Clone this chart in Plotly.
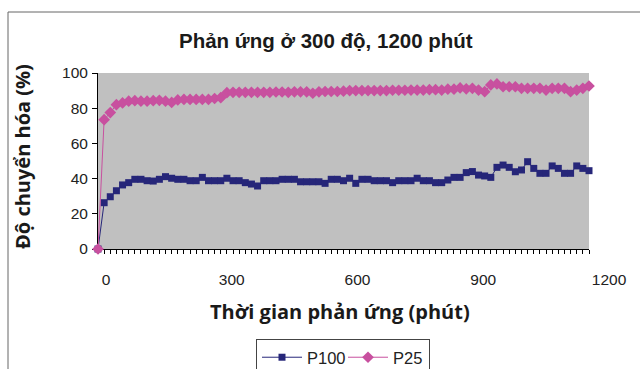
import plotly.graph_objects as go

W, H = 640, 369

# ---- data ----
times = list(range(0, 1201, 15))  # sampling times (minutes), one point every 15 min

p100 = [0, 26.3, 29.7, 33.1, 36.4, 37.7, 39.6, 39.6, 38.8, 38.6,
        39.6, 41.1, 40.2, 39.6, 39.6, 38.8, 38.8, 40.7, 38.8, 38.8,
        38.8, 40.2, 38.8, 38.8, 37.7, 36.9, 35.8, 38.8, 38.8, 38.8,
        39.6, 39.6, 39.6, 38.2, 38.2, 38.2, 38.2, 37.3, 39.6, 39.6,
        38.8, 40.2, 37.3, 39.6, 39.6, 38.8, 38.8, 38.8, 37.7, 38.8,
        38.8, 38.8, 40.2, 38.8, 38.8, 37.7, 37.7, 39.2, 40.7, 40.7,
        43.4, 44.0, 42.0, 41.5, 40.7, 46.4, 47.7, 46.4, 43.9, 44.9,
        49.6, 45.8, 43.0, 43.0, 47.2, 45.8, 43.0, 43.0, 47.2, 45.8,
        44.5]

p25 = [0, 73.5, 77.5, 82.0, 83.0, 84.0, 84.3, 84.0, 84.0, 84.3,
       84.5, 84.0, 83.3, 84.7, 85.0, 85.0, 85.0, 85.0, 85.0, 85.5,
       86.0, 88.8, 89.0, 89.0, 89.0, 89.0, 89.0, 89.0, 89.0, 89.2,
       89.2, 89.0, 89.3, 89.3, 89.3, 88.5, 89.3, 89.5, 89.5, 89.5,
       89.7, 90.0, 90.0, 90.0, 90.0, 90.0, 90.0, 90.0, 90.2, 90.2,
       90.2, 90.3, 90.3, 90.3, 90.5, 90.5, 90.3, 90.8, 90.8, 91.5,
       91.0, 91.3, 90.3, 89.4, 93.2, 93.8, 92.2, 92.2, 92.2, 91.3,
       91.3, 91.3, 91.3, 90.3, 91.3, 91.3, 91.3, 89.4, 90.3, 91.3,
       92.6]

x_tick_vals = [0, 300, 600, 900, 1200]
x_tick_text = ["0", "300", "600", "900", "1200"]
y_tick_vals = [0, 20, 40, 60, 80, 100]

# ---- layout helpers (pixels -> paper) ----
def px(x):
    return x / W

def py(y):
    return 1 - y / H

plot_l, plot_r, plot_t, plot_b = 98, 589, 73, 249
lab0, lab1 = 106, 609          # pixel positions of labels 0 and 1200
lab_l, lab_r = 90, 630         # domain of the label axis
scale = (lab1 - lab0) / 1200.0
r0 = -(lab0 - lab_l) / scale
r1 = 1200 + (lab_r - lab1) / scale

navy = "#262679"
pink = "#C8509F"
tick_font = dict(family="Liberation Sans, Arial", size=15.5, color="#222222")

fig = go.Figure()
fig.add_trace(go.Scatter(
    x=times, y=p100, name="P100", mode="lines+markers",
    line=dict(color=navy, width=1),
    marker=dict(symbol="square", size=7, color=navy),
    cliponaxis=False,
))
fig.add_trace(go.Scatter(
    x=times, y=p25, name="P25", mode="lines+markers",
    line=dict(color=pink, width=1),
    marker=dict(symbol="diamond", size=9, color=pink),
    cliponaxis=False,
))
# empty trace so that the label axis (x2) gets drawn
fig.add_trace(go.Scatter(x=[], y=[], xaxis="x2", yaxis="y2",
                         showlegend=False, hoverinfo="skip"))

fig.update_layout(
    width=W, height=H,
    margin=dict(l=0, r=0, t=0, b=0, autoexpand=False),
    paper_bgcolor="white",
    plot_bgcolor="rgba(0,0,0,0)",
    showlegend=True,
    xaxis=dict(
        domain=[px(plot_l), px(plot_r)], range=[0, 1200], anchor="y",
        showline=True, linecolor="black", linewidth=1,
        ticks="outside", ticklen=4, tickcolor="black", tickwidth=1,
        tick0=0, dtick=15, showticklabels=False,
        showgrid=False, zeroline=False, layer="below traces",
        automargin=False,
    ),
    yaxis=dict(
        domain=[py(plot_b), py(plot_t)], range=[0, 100], anchor="x",
        tickvals=y_tick_vals,
        showline=True, linecolor="black", linewidth=1,
        ticks="outside", ticklen=5, tickcolor="black",
        tickfont=tick_font, ticklabelstandoff=1,
        showgrid=False, zeroline=False, layer="below traces",
        automargin=False,
    ),
    xaxis2=dict(
        domain=[px(lab_l), px(lab_r)], range=[r0, r1], anchor="y2",
        tickvals=x_tick_vals, ticktext=x_tick_text,
        showline=False, ticks="", showgrid=False, zeroline=False,
        tickfont=tick_font, ticklabelstandoff=19, automargin=False,
    ),
    yaxis2=dict(
        domain=[py(plot_b), py(plot_t)], range=[0, 1], anchor="x2",
        visible=False,
    ),
    legend=dict(
        orientation="h", x=px(256), y=py(339), xanchor="left", yanchor="top",
        bordercolor="#444444", borderwidth=1, bgcolor="white",
        itemwidth=40, entrywidth=31,
        font=dict(family="Liberation Sans, Arial", size=16.5, color="#222222"),
    ),
    annotations=[
        dict(text="<b>Phản ứng ở 300 độ, 1200 phút</b>",
             x=px(326), y=py(40), xref="paper", yref="paper",
             xanchor="center", yanchor="middle", showarrow=False,
             font=dict(family="Liberation Sans, Arial", size=20.5, color="#1a1a1a")),
        dict(text="<b>Độ chuyển hóa (%)</b>", textangle=-90,
             x=px(22), y=py(157), xref="paper", yref="paper",
             xanchor="center", yanchor="middle", showarrow=False,
             font=dict(family="Open Sans", size=20, color="#1a1a1a")),
        dict(text="<b>Thời gian phản ứng (phút)</b>",
             x=px(340), y=py(311), xref="paper", yref="paper",
             xanchor="center", yanchor="middle", showarrow=False,
             font=dict(family="Open Sans", size=20, color="#1a1a1a")),
    ],
    shapes=[
        dict(type="rect", xref="x domain", yref="y domain",
             x0=0, x1=1, y0=0, y1=1, fillcolor="#C0C0C0",
             line=dict(width=0), layer="below"),
        dict(type="rect", xref="paper", yref="paper",
             x0=px(8), x1=1.05, y0=-0.05, y1=py(12),
             line=dict(color="#666666", width=1), fillcolor="rgba(0,0,0,0)",
             layer="above"),
    ],
)

fig.write_html("out.html")
